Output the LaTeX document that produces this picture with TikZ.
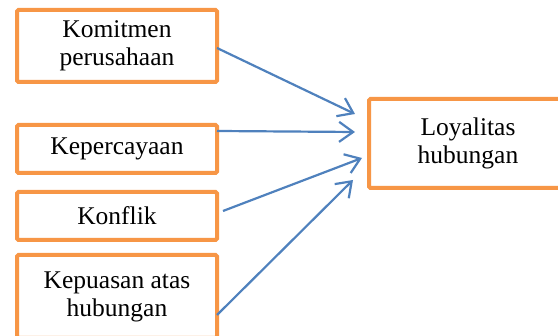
\documentclass[tikz,border=0pt]{standalone}
\usepackage{fontspec}
\setmainfont{Liberation Serif}
\usepackage{tikz}
\usetikzlibrary{arrows.meta}
\definecolor{boxorange}{RGB}{247,150,70}
\definecolor{arrowblue}{RGB}{79,129,189}
\tikzset{
		factor box/.style={draw=boxorange,line width=4pt,rounded corners=1.5pt,fill=white,
			minimum width=200pt,align=center,inner sep=0pt,outer sep=0pt,
			font=\fontsize{25.5}{28}\selectfont},
		link/.style={draw=arrowblue,line width=2.2pt}
	}

\begin{document}
\begin{tikzpicture}[x=1pt,y=1pt,>={Straight Barb[length=14pt,width=20pt]}]
					\useasboundingbox (0,0) rectangle (558,336);
					\node[factor box,minimum height=72pt] (komitmen)    at (117,290)   {Komitmen\\perusahaan};
					\node[factor box,minimum height=48pt] (kepercayaan) at (117,187)   {Kepercayaan};
					\node[factor box,minimum height=48pt] (konflik)     at (117,120)   {Konflik};
					\node[factor box,minimum height=83pt] (kepuasan)    at (117,39.5)  {Kepuasan atas\\hubungan};
					\node[factor box,minimum width=198pt,minimum height=89pt] (loyalitas) at (468,192.5) {Loyalitas\\hubungan};

					\draw[link,->] ([yshift=-2pt]komitmen.east)              -- ([xshift=-14pt,yshift=29.5pt]loyalitas.west);
					\draw[link,->] ([yshift=18pt]kepercayaan.east)           -- ([xshift=-14pt,yshift=11.5pt]loyalitas.west);
					\draw[link,->] ([xshift=6pt,yshift=5pt]konflik.east)     -- ([xshift=-7pt,yshift=-14.5pt]loyalitas.west);
					\draw[link,->] ([yshift=-18.5pt]kepuasan.east)           -- ([xshift=-16pt,yshift=-36.5pt]loyalitas.west);
				\end{tikzpicture}
\end{document}
